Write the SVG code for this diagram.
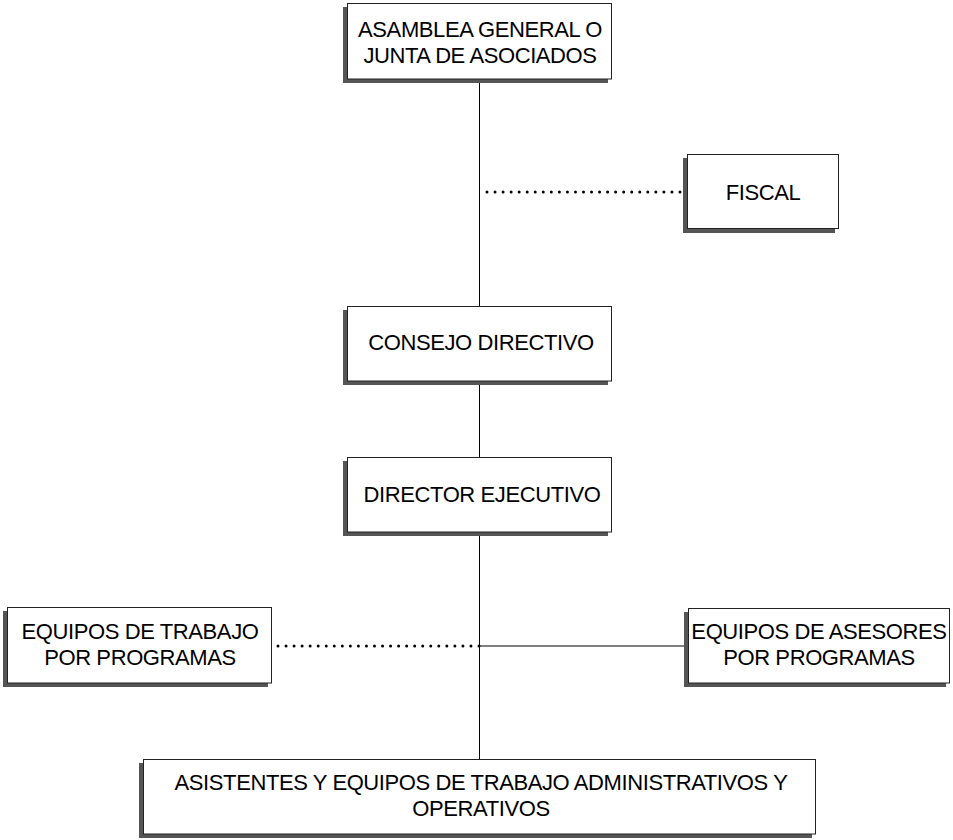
<svg xmlns="http://www.w3.org/2000/svg" width="953" height="840" viewBox="0 0 953 840">
<style>
.sh{fill:#555}
.bx{fill:#fff;stroke:#222;stroke-width:1}
.t{font-family:"Liberation Sans",Arial,sans-serif;font-size:22px;letter-spacing:-0.4px;fill:#000;text-anchor:middle}
.ln{stroke:#000;stroke-width:1;fill:none}
.dot{stroke:#000;stroke-width:3;stroke-linecap:round;stroke-dasharray:0 8.04;fill:none}
</style>
<rect width="953" height="840" fill="#fff"/>
<g id="connectors">
<line class="ln" x1="479.5" y1="79" x2="479.5" y2="306"/>
<line class="ln" x1="479.5" y1="381" x2="479.5" y2="457"/>
<line class="ln" x1="479.5" y1="532" x2="479.5" y2="759"/>
<line class="ln" x1="479.5" y1="646" x2="688" y2="646"/>
<line class="dot" x1="487" y1="192" x2="688" y2="192"/>
<line class="dot" x1="278" y1="646" x2="479" y2="646"/>
</g>
<g id="asamblea">
<rect class="sh" x="343" y="7" width="265" height="76"/>
<rect class="bx" x="347.5" y="3.5" width="264" height="75.5"/>
<text class="t" x="480" y="36.5">ASAMBLEA GENERAL O</text>
<text class="t" x="480" y="63">JUNTA DE ASOCIADOS</text>
</g>
<g id="fiscal">
<rect class="sh" x="683" y="158" width="152" height="75"/>
<rect class="bx" x="687.5" y="154.5" width="151" height="74"/>
<text class="t" x="763" y="200">FISCAL</text>
</g>
<g id="consejo">
<rect class="sh" x="343" y="310" width="265" height="75"/>
<rect class="bx" x="347.5" y="306.5" width="264" height="74.5"/>
<text class="t" x="481" y="350">CONSEJO DIRECTIVO</text>
</g>
<g id="director">
<rect class="sh" x="343" y="461" width="265" height="75"/>
<rect class="bx" x="347.5" y="457.5" width="264" height="74.5"/>
<text class="t" x="482" y="501.5">DIRECTOR EJECUTIVO</text>
</g>
<g id="equipos-trabajo">
<rect class="sh" x="3" y="611" width="265" height="76"/>
<rect class="bx" x="7.5" y="607.5" width="264" height="75.5"/>
<text class="t" x="140" y="639">EQUIPOS DE TRABAJO</text>
<text class="t" x="140" y="665">POR PROGRAMAS</text>
</g>
<g id="equipos-asesores">
<rect class="sh" x="684" y="612" width="262" height="75"/>
<rect class="bx" x="688.5" y="608.5" width="261" height="74.5"/>
<text class="t" x="819" y="639">EQUIPOS DE ASESORES</text>
<text class="t" x="819" y="665">POR PROGRAMAS</text>
</g>
<g id="asistentes">
<rect class="sh" x="139" y="763" width="673" height="75"/>
<rect class="bx" x="143.5" y="759.5" width="672" height="74.5"/>
<text class="t" x="481" y="790">ASISTENTES Y EQUIPOS DE TRABAJO ADMINISTRATIVOS Y</text>
<text class="t" x="481" y="816">OPERATIVOS</text>
</g>
</svg>
